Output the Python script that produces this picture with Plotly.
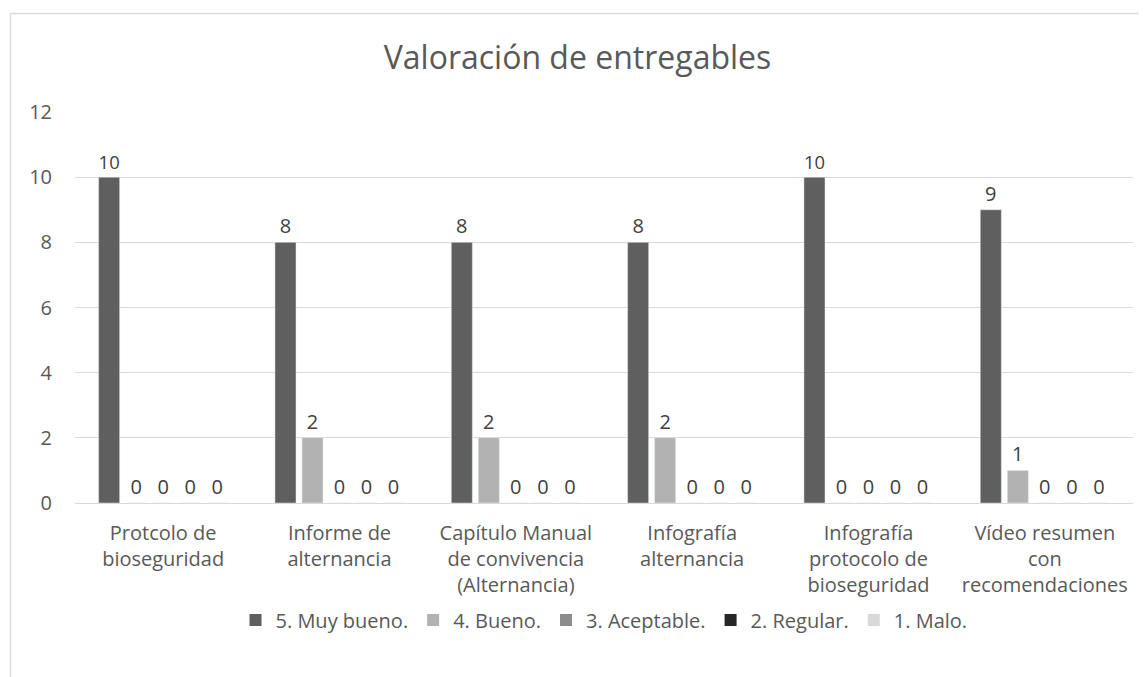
import plotly.graph_objects as go

categories = [
    "Protcolo de<br>bioseguridad",
    "Informe de<br>alternancia",
    "Capítulo Manual<br>de convivencia<br>(Alternancia)",
    "Infografía<br>alternancia",
    "Infografía<br>protocolo de<br>bioseguridad",
    "Vídeo resumen<br>con<br>recomendaciones",
]
series_names = ["5. Muy bueno.", "4. Bueno.", "3. Aceptable.", "2. Regular.", "1. Malo."]
muy_bueno = [10, 8, 8, 8, 10, 9]
bueno = [0, 2, 2, 2, 0, 1]
aceptable = [0, 0, 0, 0, 0, 0]
regular = [0, 0, 0, 0, 0, 0]
malo = [0, 0, 0, 0, 0, 0]
series_values = [muy_bueno, bueno, aceptable, regular, malo]
colors = ["#5f5f5f", "#b2b2b2", "#8c8c8c", "#262626", "#d9d9d9"]
y_ticks = [0, 2, 4, 6, 8, 10, 12]

FONT = "Open Sans"
TXT = "#595959"
FS = 20

# page offset caused by the default 8px body margin
OFF = 8
W, H = 1147 - OFF, 677 - OFF
# plot area in page pixels: x 75..1133, y 112..503
ml = 75 - OFF
mt = 112 - OFF
mr = W - (1133 - OFF)
mb = H - (503 - OFF)
pw, ph = W - ml - mr, H - mt - mb

def px2x(px):
    return (px - OFF - ml) / pw

def py2y(py):
    return (H - mb - (py - OFF)) / ph

fig = go.Figure()
for name, vals, col in zip(series_names, series_values, colors):
    fig.add_trace(go.Bar(
        x=categories, y=vals, name=name, marker_color=col,
        text=vals, textposition="outside", cliponaxis=False,
        textfont=dict(family=FONT, size=FS, color="#404040"),
        showlegend=False,
    ))
for name, col in zip(series_names, colors):
    fig.add_trace(go.Scatter(
        x=[None], y=[None], mode="markers", name=name,
        marker=dict(symbol="square", size=12, color=col),
    ))

# chart-area border (top and left, clipped on right/bottom like the reference)
fig.add_shape(type="line", xref="paper", yref="paper",
              x0=px2x(10.5), x1=px2x(1160), y0=py2y(13.5), y1=py2y(13.5),
              line=dict(color="#d9d9d9", width=1.3))
fig.add_shape(type="line", xref="paper", yref="paper",
              x0=px2x(10.5), x1=px2x(10.5), y0=py2y(13.5), y1=py2y(690),
              line=dict(color="#d9d9d9", width=1.3))

fig.update_layout(
    width=W, height=H,
    margin=dict(l=ml, r=mr, t=mt, b=mb),
    paper_bgcolor="white", plot_bgcolor="white",
    barmode="group", bargap=0.234, bargroupgap=0.22,
    title=dict(text="Valoración de entregables", x=0.5, xanchor="center",
               y=1 - (58 - OFF) / H, yanchor="middle",
               font=dict(family=FONT, size=32, color=TXT)),
    font=dict(family=FONT, size=FS, color=TXT),
    legend=dict(orientation="h", x=0.5, xanchor="center", y=py2y(620), yanchor="middle",
                font=dict(family=FONT, size=FS, color=TXT), itemwidth=30,
                traceorder="normal"),
    xaxis=dict(showgrid=False, showline=True, linecolor="#d9d9d9", linewidth=1.3,
               ticks="", ticklabelstandoff=12,
               tickfont=dict(family=FONT, size=FS, color=TXT)),
    yaxis=dict(range=[0, 12], tickvals=y_ticks, showgrid=True, gridcolor="#d9d9d9",
               gridwidth=1.3, zeroline=False, showline=False, ticks="",
               ticklabelstandoff=22,
               tickfont=dict(family=FONT, size=FS, color=TXT)),
)

fig.write_html("out.html")
